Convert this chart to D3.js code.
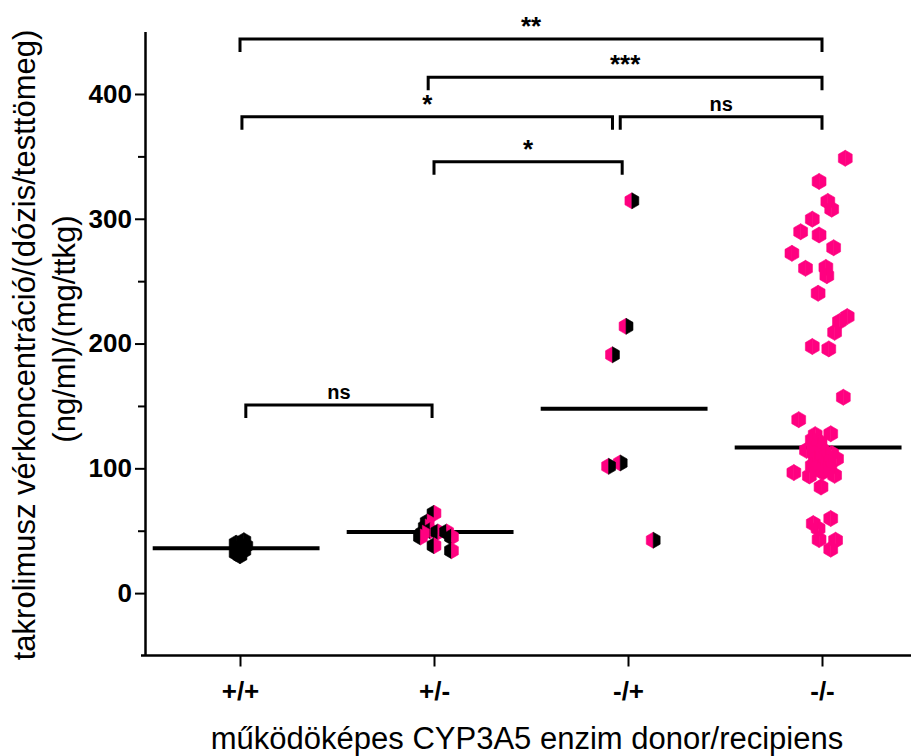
<!DOCTYPE html>
<html>
<head>
<meta charset="utf-8">
<script src="https://d3js.org/d3.v7.min.js"></script>
<style>body{margin:0;background:#fff;} svg{display:block;}</style>
</head>
<body>
<div id="chart"></div>
<script>
// categories (donor/recipient genotype)
const categories = ["+/+", "+/-", "-/+", "-/-"];

// values per group + horizontal jitter (category units)
const valuesPP = [42, 40, 38, 36, 34, 32, 30];
const jitterPP = [0.02, -0.02, 0.03, -0.01, 0.02, -0.02, 0.0];

const valuesPM = [64, 57, 53, 50, 49, 49, 48, 45, 45, 38, 34];
const jitterPM = [0.0, -0.035, -0.045, -0.02, 0.02, 0.065, -0.06, -0.07, 0.09, 0.0, 0.09];

const valuesMP = [314.4, 213.8, 191, 104.3, 101.6, 42.4];
const jitterMP = [0.02, -0.01, -0.08, -0.04, -0.1, 0.13];

const valuesMM = [348.5, 329.9, 313.9, 307.7, 299.7, 289.6, 287, 276.8, 272.3, 261, 260.3, 254.4, 240.3,
  221.6, 217.6, 209, 197.6, 195.7, 157, 139, 127.7, 127, 123, 121, 118.4,
  115, 114.4, 112, 111.8, 110, 107.7, 107.7, 105, 103, 102, 101, 100, 99, 98.4, 97, 96.6, 94.4, 93.9, 85,
  59.8, 55.7, 51.7, 42.9, 42.4, 35.2];
const jitterMM = [0.12, -0.015, 0.03, 0.05, -0.05, -0.11, -0.015, 0.06, -0.155, 0.02, -0.085, 0.025, -0.02,
  0.13, 0.09, 0.065, -0.05, 0.035, 0.11, -0.12, 0.045, -0.035, -0.05, -0.01, -0.02,
  0.0, -0.08, -0.04, 0.05, 0.02, 0.075, -0.035, 0.03, 0.01, -0.05, -0.02, 0.04, 0.02, -0.01, 0.005, -0.145, 0.065, -0.065, -0.005,
  0.045, -0.045, -0.02, -0.015, 0.07, 0.045];

// significance brackets
const bracketFrom  = [1, 1.97, 1.01, 2.96, 2.0, 1.03];
const bracketTo    = [4, 4, 2.92, 4, 2.97, 1.99];
const bracketLevel = [444, 413.4, 381.8, 381.8, 345.7, 150.7];
const bracketLabel = ["**", "***", "*", "ns", "*", "ns"];

const yTicks = [0, 100, 200, 300, 400];
const yMinorTicks = [50, 150, 250, 350];

const groups = [
  {values: valuesPP, jitter: jitterPP, left: "#000000", right: "#000000"},
  {values: valuesPM, jitter: jitterPM, left: "#000000", right: "#ff0080"},
  {values: valuesMP, jitter: jitterMP, left: "#ff0080", right: "#000000"},
  {values: valuesMM, jitter: jitterMM, left: "#ff0080", right: "#ff0080"}
];

const width = 911, height = 756;
const font = "'Liberation Sans', Arial, sans-serif";

const svg = d3.select("#chart").append("svg")
  .attr("width", width).attr("height", height)
  .style("font-family", font);

const x = d3.scaleLinear().domain([0.5, 4.5]).range([143, 919]);
const y = d3.scaleLinear().domain([-50, 450]).range([655.5, 31.6]);

// x axis
const xAxis = svg.append("g")
  .attr("transform", `translate(0,${y(-50)})`)
  .call(d3.axisBottom(x).tickValues([1, 2, 3, 4]).tickFormat((d, i) => categories[i])
    .tickSize(11).tickSizeOuter(0).tickPadding(15));
xAxis.select(".domain").attr("stroke-width", 2.5).attr("d", `M141,0H911`);
xAxis.selectAll(".tick line").attr("stroke-width", 2);
xAxis.selectAll(".tick text").attr("font-size", 26).attr("font-weight", "bold")
  .attr("font-family", font).attr("fill", "#000");

// y axis
const yAxis = svg.append("g")
  .attr("transform", `translate(145,0)`)
  .call(d3.axisLeft(y).tickValues(yTicks).tickSize(10).tickSizeOuter(0).tickPadding(3));
yAxis.select(".domain").attr("stroke-width", 2.5);
yAxis.selectAll(".tick line").attr("stroke-width", 2);
yAxis.selectAll(".tick text").attr("font-size", 26).attr("font-weight", "bold")
  .attr("font-family", font).attr("fill", "#000");

const yMinor = svg.append("g")
  .attr("transform", `translate(145,0)`)
  .call(d3.axisLeft(y).tickValues(yMinorTicks).tickSize(7).tickFormat(""));
yMinor.select(".domain").remove();
yMinor.selectAll(".tick line").attr("stroke-width", 2);

// axis titles
svg.append("text")
  .attr("x", 527).attr("y", 749)
  .attr("text-anchor", "middle")
  .attr("font-size", 31)
  .text("működöképes CYP3A5 enzim donor/recipiens");

svg.append("text")
  .attr("transform", "translate(35,345) rotate(-90)")
  .attr("text-anchor", "middle")
  .attr("font-size", 31)
  .text("takrolimusz vérkoncentráció/(dózis/testtömeg)");
svg.append("text")
  .attr("transform", "translate(75,329) rotate(-90)")
  .attr("text-anchor", "middle")
  .attr("font-size", 31)
  .text("(ng/ml)/(mg/ttkg)");

// median lines
svg.append("g").selectAll("line")
  .data(groups)
  .join("line")
  .attr("x1", (d, i) => x(i + 1 - 0.45))
  .attr("x2", (d, i) => x(i + 1 + 0.41))
  .attr("y1", d => y(d3.median(d.values)))
  .attr("y2", d => y(d3.median(d.values)))
  .attr("stroke", "#000")
  .attr("stroke-width", 4);

// hexagon markers (split into left / right halves)
const r = 8, w = r * Math.cos(Math.PI / 6);
const leftHalf = `M0,${-r}L${-w},${-r / 2}L${-w},${r / 2}L0,${r}Z`;
const rightHalf = `M0,${-r}L${w},${-r / 2}L${w},${r / 2}L0,${r}Z`;

const points = groups.flatMap((g, gi) => g.values.map((v, k) => ({
  cat: gi + 1, v: v, j: g.jitter[k], left: g.left, right: g.right
})));

const marker = svg.append("g").selectAll("g")
  .data(points)
  .join("g")
  .attr("transform", d => `translate(${x(d.cat + d.j)},${y(d.v)})`);
marker.append("path").attr("d", leftHalf).attr("fill", d => d.left)
  .attr("stroke", d => d.left).attr("stroke-width", 0.6);
marker.append("path").attr("d", rightHalf).attr("fill", d => d.right)
  .attr("stroke", d => d.right).attr("stroke-width", 0.6);

// significance brackets
const br = svg.append("g");
bracketLabel.forEach((lab, i) => {
  const x1 = x(bracketFrom[i]), x2 = x(bracketTo[i]), yy = y(bracketLevel[i]);
  br.append("path")
    .attr("d", `M${x1},${yy + 13}V${yy}H${x2}V${yy + 13}`)
    .attr("fill", "none")
    .attr("stroke", "#000")
    .attr("stroke-width", 3);
  const t = br.append("text")
    .attr("x", (x1 + x2) / 2)
    .attr("y", yy)
    .attr("text-anchor", "middle")
    .attr("font-weight", "bold")
    .attr("font-size", lab === "ns" ? 20 : 26)
    .text(lab);
  const bb = t.node().getBBox();
  const shift = (yy - 13) - (bb.y + bb.height / 2);
  t.attr("y", yy + shift);
});
</script>
</body>
</html>
